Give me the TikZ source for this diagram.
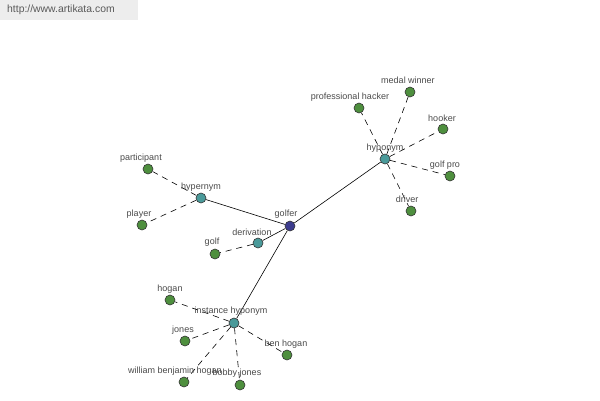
\documentclass[tikz,border=0pt]{standalone}
\usepackage{fontspec}
\setmainfont{Liberation Sans}
\definecolor{leafgreen}{HTML}{4E8F3E}
\definecolor{reltealc}{HTML}{4A9A9A}
\definecolor{rootblue}{HTML}{3C3C8E}
\definecolor{labgrey}{HTML}{4A4A4A}
\tikzset{
  leaf/.style={circle,draw=black!80,fill=leafgreen,minimum size=10pt,inner sep=0pt,line width=0.6pt},
  rel/.style={leaf,fill=reltealc},
  root/.style={leaf,fill=rootblue},
  lbl/.style={text=labgrey,font=\fontsize{9}{10}\selectfont,inner sep=0pt},
  link/.style={line width=0.6pt},
  dlink/.style={line width=0.6pt,dash pattern=on 6pt off 5pt}
}
\begin{document}
\begin{tikzpicture}[x=1pt,y=-1pt]
  \useasboundingbox (0,0) rectangle (600,400);
  % watermark
  \fill[black!7] (0,0) rectangle (138,20);
  \node[text=black!65,font=\fontsize{10.4}{11}\selectfont,anchor=west,inner sep=0pt] (site) at (7,10) {http://www.artikata.com};
  % centre and relation nodes
  \node[root] (golfer) at (290,226) {};
  \node[rel] (hypo) at (385,159) {};
  \node[rel] (hyper) at (201,198) {};
  \node[rel] (deriv) at (258,243) {};
  \node[rel] (inst) at (234,323) {};
  % leaves
  \node[leaf] (medal) at (410,92) {};
  \node[leaf] (hacker) at (359,108) {};
  \node[leaf] (hooker) at (443,129) {};
  \node[leaf] (golfpro) at (450,176) {};
  \node[leaf] (driver) at (411,211) {};
  \node[leaf] (particip) at (148,169) {};
  \node[leaf] (player) at (142,225) {};
  \node[leaf] (golf) at (215,254) {};
  \node[leaf] (hogan) at (170,300) {};
  \node[leaf] (jones) at (185,341) {};
  \node[leaf] (benhogan) at (287,355) {};
  \node[leaf] (william) at (184,382) {};
  \node[leaf] (bobby) at (240,385) {};
  % solid links from the centre
  \draw[link] (golfer) -- (hypo);
  \draw[link] (golfer) -- (hyper);
  \draw[link] (golfer) -- (deriv);
  \draw[link] (golfer) -- (inst);
  % dashed links to the leaves
  \foreach \a/\b in {hypo/medal,hypo/hacker,hypo/hooker,hypo/golfpro,hypo/driver,
                     hyper/particip,hyper/player,deriv/golf,
                     inst/hogan,inst/jones,inst/benhogan,inst/william,inst/bobby}
    \draw[dlink] (\a) -- (\b);
  % labels
  \node[lbl] (tgolfer) at (286,214) {golfer};
  \node[lbl] (thypo) at (385,148) {hyponym};
  \node[lbl] (thyper) at (201,187) {hypernym};
  \node[lbl] (tderiv) at (252,232) {derivation};
  \node[lbl] (tinst) at (231,311) {instance hyponym};
  \node[lbl] (tmedal) at (408,80) {medal winner};
  \node[lbl] (thacker) at (350,97) {professional hacker};
  \node[lbl] (thooker) at (442,118) {hooker};
  \node[lbl] (tgolfpro) at (445,165) {golf pro};
  \node[lbl] (tdriver) at (407,199) {driver};
  \node[lbl] (tparticip) at (141,158) {participant};
  \node[lbl] (tplayer) at (139,214) {player};
  \node[lbl] (tgolf) at (212,242) {golf};
  \node[lbl] (thogan) at (170,289) {hogan};
  \node[lbl] (tjones) at (183,330) {jones};
  \node[lbl] (tbenhogan) at (286,344) {ben hogan};
  \node[lbl] (twilliam) at (175,371) {william benjamin hogan};
  \node[lbl] (tbobby) at (237,373) {bobby jones};
\end{tikzpicture}
\end{document}
